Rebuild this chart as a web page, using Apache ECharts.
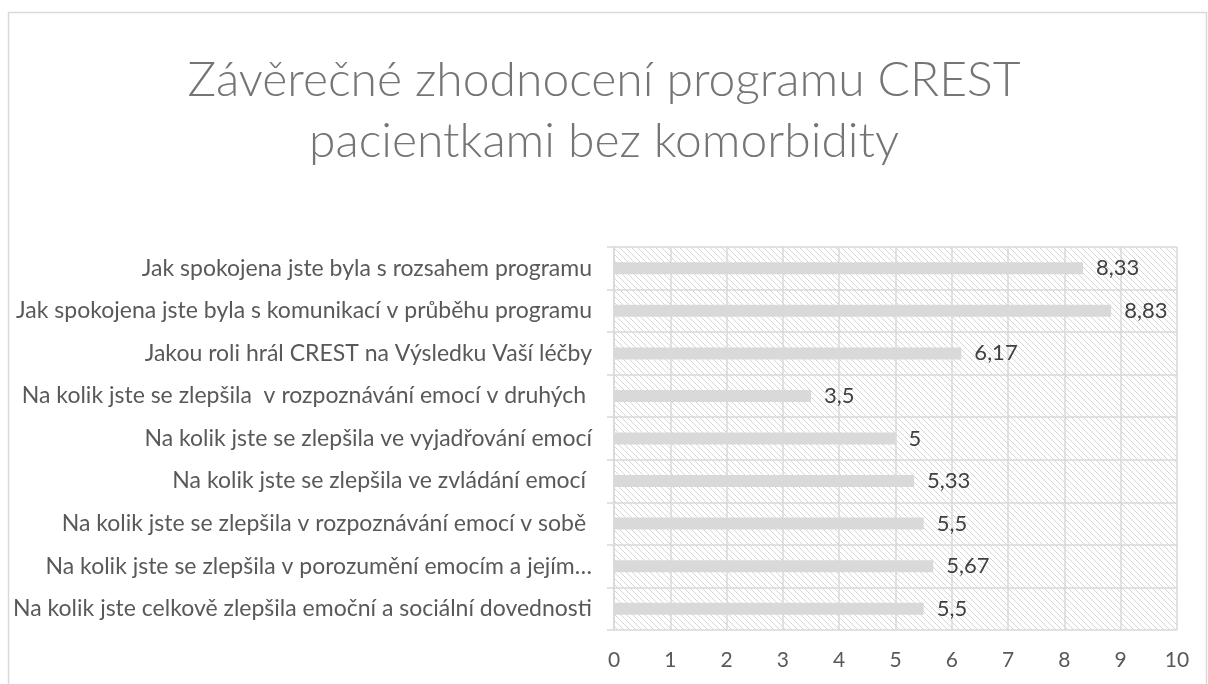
<!DOCTYPE html>
<html>
<head>
<meta charset="utf-8">
<script src="https://cdn.jsdelivr.net/npm/echarts@6/dist/echarts.min.js"></script>
<style>
html,body{margin:0;padding:0;background:#fff;}
#chart{width:1208px;height:684px;}
</style>
</head>
<body>
<div id="chart"></div>
<script>
const titleText = 'Závěrečné zhodnocení programu CREST\npacientkami bez komorbidity';
const categories = [
  'Jak spokojena jste byla s rozsahem programu',
  'Jak spokojena jste byla s komunikací v průběhu programu',
  'Jakou roli hrál CREST na Výsledku Vaší léčby',
  'Na kolik jste se zlepšila  v rozpoznávání emocí v druhých ',
  'Na kolik jste se zlepšila ve vyjadřování emocí',
  'Na kolik jste se zlepšila ve zvládání emocí ',
  'Na kolik jste se zlepšila v rozpoznávání emocí v sobě ',
  'Na kolik jste se zlepšila v porozumění emocím a jejím…',
  'Na kolik jste celkově zlepšila emoční a sociální dovednosti'
];
const values = [8.33, 8.83, 6.17, 3.5, 5, 5.33, 5.5, 5.67, 5.5];
const axisMin = 0, axisMax = 10, axisStep = 1;

function makePattern() {
  const s = 6;
  const c = document.createElement('canvas');
  c.width = s; c.height = s;
  const g = c.getContext('2d');
  g.fillStyle = '#ffffff';
  g.fillRect(0, 0, s, s);
  g.strokeStyle = '#d6d6d6';
  g.lineWidth = 1;
  g.beginPath();
  g.moveTo(-1, -1); g.lineTo(s + 1, s + 1);
  g.moveTo(-1, s - 1); g.lineTo(1, s + 1);
  g.moveTo(s - 1, -1); g.lineTo(s + 1, 1);
  g.stroke();
  return c;
}

const chart = echarts.init(document.getElementById('chart'));
const font = 'Lato, "Open Sans", sans-serif';
chart.setOption({
  animation: false,
  backgroundColor: '#ffffff',
  title: {
    text: titleText,
    left: 'center',
    top: 45,
    textStyle: {
      fontFamily: font,
      fontWeight: 300,
      fontSize: 48,
      lineHeight: 61,
      color: '#757575'
    }
  },
  graphic: [{
    type: 'rect',
    shape: { x: 8.5, y: 12.5, width: 1198, height: 690 },
    style: { fill: 'none', stroke: '#d9d9d9', lineWidth: 1.5 },
    silent: true,
    z: -1
  }],
  grid: {
    left: 614, top: 247, right: 31, bottom: 54,
    show: true,
    borderWidth: 0,
    backgroundColor: { image: makePattern(), repeat: 'repeat' }
  },
  xAxis: {
    type: 'value',
    min: axisMin, max: axisMax, interval: axisStep,
    axisLine: { show: false },
    axisTick: { show: false },
    splitLine: { show: true, lineStyle: { color: '#d9d9d9', width: 1.5 } },
    axisLabel: {
      margin: 20,
      fontFamily: font,
      fontSize: 21,
      color: '#595959'
    }
  },
  yAxis: {
    type: 'category',
    inverse: true,
    data: categories,
    axisLine: { show: true, lineStyle: { color: '#d9d9d9', width: 1.5 } },
    axisTick: { show: true, length: 7, lineStyle: { color: '#d9d9d9', width: 1.5 } },
    splitLine: { show: true, lineStyle: { color: '#d9d9d9', width: 1.5 } },
    axisLabel: {
      margin: 22,
      fontFamily: font,
      fontSize: 23,
      color: '#595959'
    }
  },
  series: [{
    type: 'bar',
    data: values,
    barWidth: 12,
    itemStyle: { color: '#d9d9d9' },
    label: {
      show: true,
      position: 'right',
      distance: 13,
      fontFamily: font,
      fontSize: 22,
      color: '#404040',
      formatter: p => String(p.value).replace('.', ',')
    }
  }]
});
</script>
</body>
</html>
